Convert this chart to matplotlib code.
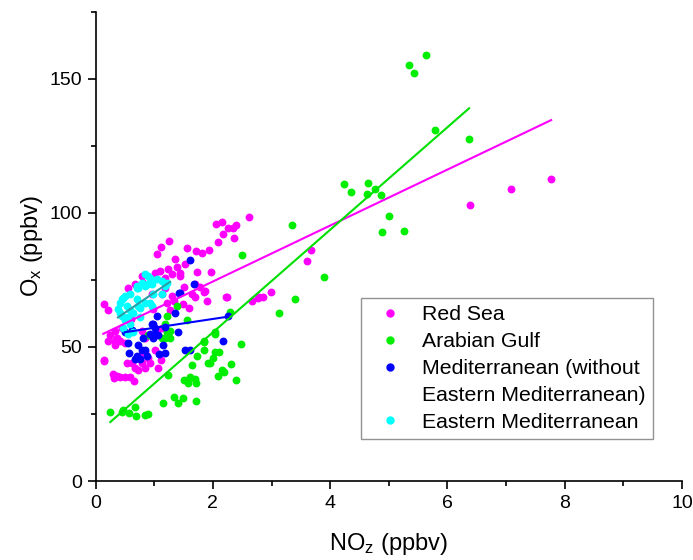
import matplotlib
matplotlib.use("Agg")
import matplotlib.pyplot as plt
from matplotlib.lines import Line2D
from matplotlib.ticker import MultipleLocator

plt.rcParams['font.family'] = ['Liberation Sans', 'DejaVu Sans']
plt.rcParams['mathtext.fontset'] = 'custom'
plt.rcParams['mathtext.rm'] = 'Liberation Sans'
plt.rcParams['mathtext.it'] = 'Liberation Sans:italic'
plt.rcParams['mathtext.default'] = 'regular'

# ---------------- data ----------------
red_x = [7.76, 7.09, 6.39, 3.68, 3.61,
         2.62, 2.06, 2.16, 2.18, 2.26, 2.34, 2.40, 2.36, 2.09, 1.94, 1.56, 1.71, 1.82, 1.53, 1.73,
         1.97, 1.25, 1.12, 1.05, 1.36, 1.39, 1.10, 1.24, 1.44, 1.30, 1.02, 1.19, 0.67, 0.79, 1.70,
         1.78, 1.84, 1.70, 2.23, 2.79, 2.86, 2.99, 2.67, 2.77, 1.51, 1.87, 1.90, 2.24, 1.44,
         0.15, 0.21, 0.14, 0.14, 0.81, 0.55, 1.13, 1.31, 1.19, 0.96, 1.22, 1.33, 1.65,
         0.33, 0.25, 0.45, 0.42, 0.33, 0.50, 0.79, 0.84, 1.05, 1.13, 1.27, 1.49,
         0.30, 0.37, 0.32, 0.42, 0.50, 0.59, 0.66, 0.54, 0.62, 0.67, 0.79, 0.90, 0.93, 1.12,
         0.21, 0.33, 0.37, 0.72, 0.84, 0.76, 1.02, 0.84, 1.07, 0.60, 0.98, 1.60]
red_y = [112.6, 109.0, 103.0, 86.0, 82.0,
         98.5, 96.0, 96.7, 92.2, 94.4, 94.4, 95.5, 90.7, 89.2, 86.2, 87.0, 85.9, 85.1, 81.0, 78.0,
         78.0, 89.6, 87.4, 84.8, 82.9, 80.0, 78.4, 79.2, 76.6, 77.3, 77.7, 75.8, 73.6, 76.6, 73.6,
         72.5, 70.6, 68.8, 68.8, 68.8, 68.8, 70.6, 67.3, 68.4, 72.5, 71.0, 67.3, 68.8, 77.7,
         66.2, 63.6, 45.0, 44.6, 74.0, 72.1, 69.9, 69.1, 72.1, 69.9, 66.5, 67.3, 69.9,
         56.1, 54.3, 56.9, 52.4, 50.6, 51.3, 56.1, 53.2, 56.1, 57.2, 63.6, 66.2,
         40.1, 39.0, 38.3, 38.7, 38.7, 38.7, 37.2, 43.9, 43.9, 42.0, 44.2, 45.7, 43.9, 45.0,
         52.4, 52.4, 53.5, 41.3, 42.0, 46.5, 48.7, 48.0, 42.0, 60.5, 64.0, 64.5]

gulf_x = [5.64, 5.35, 5.43, 5.79, 6.37, 4.87, 5.00, 4.89, 5.26, 4.24, 4.65, 4.36, 4.63, 4.77,
          3.35, 3.90, 3.40, 3.12, 2.50, 2.30, 2.04, 1.84, 1.84, 2.48, 1.84, 2.04, 2.11, 1.73,
          2.00, 1.95, 1.92, 1.65, 2.31, 2.16, 2.19, 2.09, 1.61, 1.70, 1.51, 1.58, 1.72, 2.40,
          1.49, 1.71, 1.34, 1.41, 1.15, 1.24, 0.25, 0.45, 0.47, 0.57, 0.67, 0.69, 0.84, 0.90,
          1.19, 1.22, 0.90, 2.03, 1.22, 1.39, 1.19, 1.27, 1.56, 1.13, 1.27]
gulf_y = [159.0, 155.0, 152.0, 131.0, 127.5, 106.7, 99.0, 93.0, 93.3, 110.8, 111.0, 107.8, 107.0, 109.0,
          95.5, 76.0, 68.0, 62.5, 84.4, 63.2, 55.0, 52.4, 51.7, 51.0, 49.0, 48.0, 48.0, 46.5,
          45.7, 44.2, 43.9, 43.1, 43.5, 41.3, 40.5, 39.0, 38.7, 37.9, 37.5, 36.4, 36.4, 37.5,
          30.9, 29.7, 31.2, 29.0, 29.0, 39.4, 25.7, 25.7, 26.4, 25.3, 27.5, 24.2, 24.5, 24.9,
          53.5, 55.4, 54.3, 55.4, 61.7, 65.4, 58.7, 56.1, 59.9, 53.2, 53.2]

med_x = [1.61, 1.67, 1.44, 1.05, 1.36, 1.41, 0.55, 0.72, 0.79, 0.71, 0.85, 0.88, 0.57, 0.67,
         0.76, 1.08, 1.19, 1.15, 0.81, 0.98, 1.02, 2.26, 2.18, 1.53, 1.61, 1.07, 0.93, 0.96,
         1.02, 0.98, 1.19, 1.42, 0.62, 0.50]
med_y = [82.5, 73.6, 70.3, 61.7, 62.5, 55.4, 51.3, 50.6, 48.7, 46.8, 48.7, 46.5, 47.6, 45.4,
         45.4, 47.2, 47.6, 50.9, 53.5, 53.5, 55.0, 61.7, 52.4, 48.7, 48.7, 54.3, 55.0, 58.7,
         56.9, 58.7, 57.6, 70.3, 56.5, 55.5]

emed_x = [0.84, 0.93, 0.79, 0.84, 0.72, 0.90, 0.96, 0.71, 0.98, 0.59, 0.47, 0.71, 0.93, 0.42,
          0.54, 0.39, 0.59, 0.76, 0.45, 0.50, 0.59, 0.47, 0.64, 0.55, 1.05, 1.13, 1.22, 1.19,
          0.76, 0.96, 0.45, 0.50, 0.42, 0.55, 0.64, 0.72, 0.71, 0.90, 1.13, 0.84]
emed_y = [77.3, 75.8, 74.0, 72.9, 72.1, 76.6, 73.6, 72.1, 69.9, 69.9, 68.4, 68.0, 66.5, 66.5,
          65.4, 64.3, 63.6, 64.7, 61.7, 59.9, 58.7, 57.2, 55.4, 55.0, 75.5, 69.9, 74.0, 72.9,
          61.0, 65.4, 68.0, 69.1, 62.8, 61.0, 62.5, 65.4, 72.9, 73.6, 74.7, 66.5]

# fitted lines (end points)
red_fit_x, red_fit_y = [0.13, 7.77], [54.9, 134.6]
gulf_fit_x, gulf_fit_y = [0.25, 6.37], [22.0, 139.0]
med_fit_x, med_fit_y = [0.50, 2.26], [55.5, 61.3]
emed_fit_x, emed_fit_y = [0.38, 1.27], [61.0, 74.3]

labels = ["Red Sea", "Arabian Gulf", "Mediterranean (without", "Eastern Mediterranean)",
          "Eastern Mediterranean"]

# ---------------- plotting ----------------
fig = plt.figure(figsize=(6.93, 5.60), dpi=100)
ax = fig.add_axes([0.138, 0.141, 0.846, 0.838])

ms = 32
ax.scatter(red_x, red_y, s=ms, color='#ff00ff', linewidths=0, zorder=2)
ax.scatter(gulf_x, gulf_y, s=ms, color='#00ee00', linewidths=0, zorder=2)
ax.scatter(med_x, med_y, s=ms, color='#0000ff', linewidths=0, zorder=3)
ax.scatter(emed_x, emed_y, s=ms, color='#00ffff', linewidths=0, zorder=3)

ax.plot(red_fit_x, red_fit_y, color='#ff00ff', lw=1.5, zorder=4)
ax.plot(gulf_fit_x, gulf_fit_y, color='#00e000', lw=1.5, zorder=4)
ax.plot(med_fit_x, med_fit_y, color='#0000ff', lw=1.5, zorder=4)
ax.plot(emed_fit_x, emed_fit_y, color='#2a9ea6', lw=1.5, zorder=4)

ax.set_xlim(0, 10)
ax.set_ylim(0, 175)
ax.xaxis.set_major_locator(MultipleLocator(2))
ax.xaxis.set_minor_locator(MultipleLocator(1))
ax.yaxis.set_major_locator(MultipleLocator(50))
ax.yaxis.set_minor_locator(MultipleLocator(25))
for s in ['top', 'right']:
    ax.spines[s].set_visible(False)
for s in ['left', 'bottom']:
    ax.spines[s].set_linewidth(1.2)
ax.tick_params(which='major', direction='out', length=6, width=1.2, labelsize=14, pad=4)
ax.tick_params(which='minor', direction='out', length=3.5, width=1.2)

ax.set_xlabel('NO$_{z}$ (ppbv)', fontsize=17, labelpad=14)
ax.set_ylabel('O$_{x}$ (ppbv)', fontsize=17, labelpad=3)

handles = [
    Line2D([], [], ls='none', marker='o', color='#ff00ff', markersize=5),
    Line2D([], [], ls='none', marker='o', color='#00ee00', markersize=5),
    Line2D([], [], ls='none', marker='o', color='#0000ff', markersize=5),
    Line2D([], [], ls='none', marker='none'),
    Line2D([], [], ls='none', marker='o', color='#00ffff', markersize=5),
]
leg = ax.legend(handles, labels, loc='upper left', bbox_to_anchor=(0.453, 0.39),
                borderaxespad=0, fontsize=15.3, frameon=True, fancybox=False,
                edgecolor='#777777', labelspacing=0.37, handletextpad=0.5,
                handlelength=2.0, borderpad=0.35)
leg.get_frame().set_linewidth(1.0)

fig.savefig('out.png', dpi=100)
